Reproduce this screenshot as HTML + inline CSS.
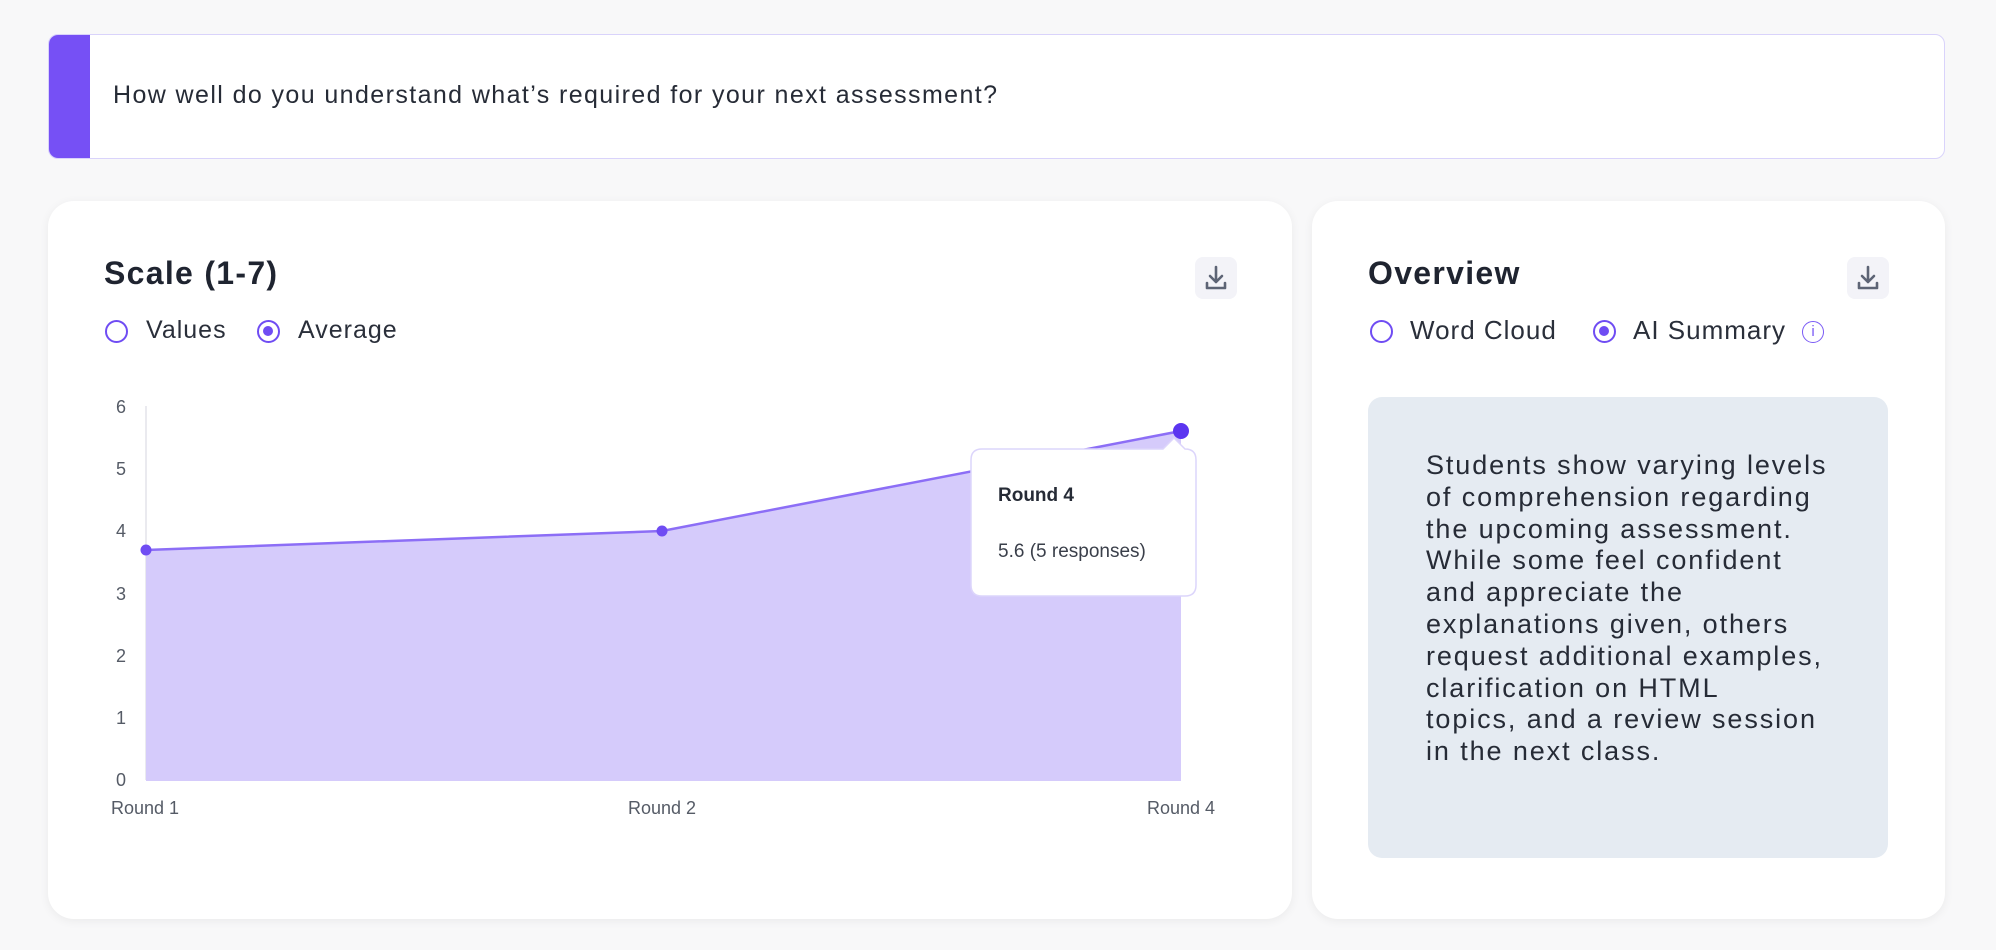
<!DOCTYPE html>
<html><head><meta charset="utf-8"><style>
body{margin:0;width:1996px;height:950px;background:#f8f8f9;font-family:"Liberation Sans",sans-serif;position:relative;overflow:hidden;color:#1f2430}
.abs{position:absolute}
.hdr{left:48px;top:34px;width:1895px;height:123px;background:#fff;border:1px solid #d9d3fb;border-radius:10px;overflow:hidden}
.bar{left:0;top:0;width:41px;height:100%;background:#7650f5}
.card{background:#fff;border-radius:26px;box-shadow:0 2px 10px rgba(0,0,0,0.06)}
.dl{width:42px;height:42px;border-radius:8px;background:#f3f3f8}
.radio{width:23px;height:23px;border:2.5px solid #6f4cf3;border-radius:50%;box-sizing:border-box}
.radio.on::after{content:"";position:absolute;left:4px;top:4px;width:10px;height:10px;border-radius:50%;background:#6f4cf3}
.lbl{font-size:25px;color:#2a2f3a;letter-spacing:1px}
.ttl{font-size:32px;font-weight:bold;color:#1f2430;letter-spacing:1.3px}
</style></head><body>
<div class="abs hdr"><div class="abs bar"></div><div class="abs" style="left:64px;top:46px;font-size:25px;letter-spacing:1.4px;color:#262b36;white-space:nowrap">How well do you understand what’s required for your next assessment?</div></div>

<div class="abs card" style="left:48px;top:201px;width:1244px;height:718px"></div>
<div class="abs ttl" style="left:104px;top:255px">Scale (1-7)</div>
<div class="abs dl" style="left:1195px;top:257px"><svg width="42" height="42"><path d="M21 10v15M15 19l6 6 6-6M12 26v5h18v-5" fill="none" stroke="#5d6475" stroke-width="2.6" stroke-linecap="round" stroke-linejoin="round"/></svg></div>
<div class="abs radio" style="left:105px;top:320px"></div><div class="abs lbl" style="left:146px;top:316px">Values</div>
<div class="abs radio on" style="left:257px;top:320px"></div><div class="abs lbl" style="left:298px;top:316px">Average</div>

<svg class="abs" style="left:0;top:0" width="1300" height="950">
<g font-family="Liberation Sans" font-size="18" fill="#555b66" text-anchor="middle">
<text x="121" y="413">6</text><text x="121" y="475">5</text><text x="121" y="537">4</text><text x="121" y="600">3</text><text x="121" y="662">2</text><text x="121" y="724">1</text><text x="121" y="786">0</text>
<text x="145" y="814">Round 1</text><text x="662" y="814">Round 2</text><text x="1181" y="814">Round 4</text>
</g>
<line x1="146" y1="406" x2="146" y2="780" stroke="#e4e4ea" stroke-width="1.5"/>
<polygon points="146,550 662,531 1181,431 1181,781 146,781" fill="#d5cbfb"/>
<polyline points="146,550 662,531 1181,431" fill="none" stroke="#8c6ef6" stroke-width="2.5"/>
<circle cx="146" cy="550" r="5.5" fill="#6f4cf3"/><circle cx="662" cy="531" r="5.5" fill="#6f4cf3"/><circle cx="1181" cy="431" r="8" fill="#5b35f0"/>
<path d="M982 449 H1163 L1174 438 L1185 449 Q1196 449 1196 460 V585 Q1196 596 1185 596 H982 Q971 596 971 585 V460 Q971 449 982 449Z" fill="#fff" stroke="#dcd5fb" stroke-width="1.5"/>
<text x="998" y="501" font-family="Liberation Sans" font-size="19" font-weight="bold" fill="#262b36">Round 4</text>
<text x="998" y="557" font-family="Liberation Sans" font-size="19" fill="#3a3f4a">5.6 (5 responses)</text>
</svg>

<div class="abs card" style="left:1312px;top:201px;width:633px;height:718px"></div>
<div class="abs ttl" style="left:1368px;top:255px">Overview</div>
<div class="abs dl" style="left:1847px;top:257px"><svg width="42" height="42"><path d="M21 10v15M15 19l6 6 6-6M12 26v5h18v-5" fill="none" stroke="#5d6475" stroke-width="2.6" stroke-linecap="round" stroke-linejoin="round"/></svg></div>
<div class="abs radio" style="left:1370px;top:320px"></div><div class="abs lbl" style="left:1410px;top:315px;font-size:26px">Word Cloud</div>
<div class="abs radio on" style="left:1593px;top:320px"></div><div class="abs lbl" style="left:1633px;top:315px;font-size:26px">AI Summary</div>
<div class="abs" style="left:1802px;top:321px;width:22px;height:22px;border:1.8px solid #7a5af5;border-radius:50%;box-sizing:border-box;color:#7a5af5;font-size:15px;text-align:center;line-height:19px">i</div>
<div class="abs" style="left:1368px;top:397px;width:520px;height:461px;background:#e5ebf2;border-radius:14px"></div>
<div class="abs" style="left:1426px;top:450px;font-size:27px;line-height:31.8px;color:#262b36;letter-spacing:1.9px;white-space:nowrap">Students show varying levels<br>of comprehension regarding<br>the upcoming assessment.<br>While some feel confident<br>and appreciate the<br>explanations given, others<br>request additional examples,<br>clarification on HTML<br>topics, and a review session<br>in the next class.</div>
</body></html>
